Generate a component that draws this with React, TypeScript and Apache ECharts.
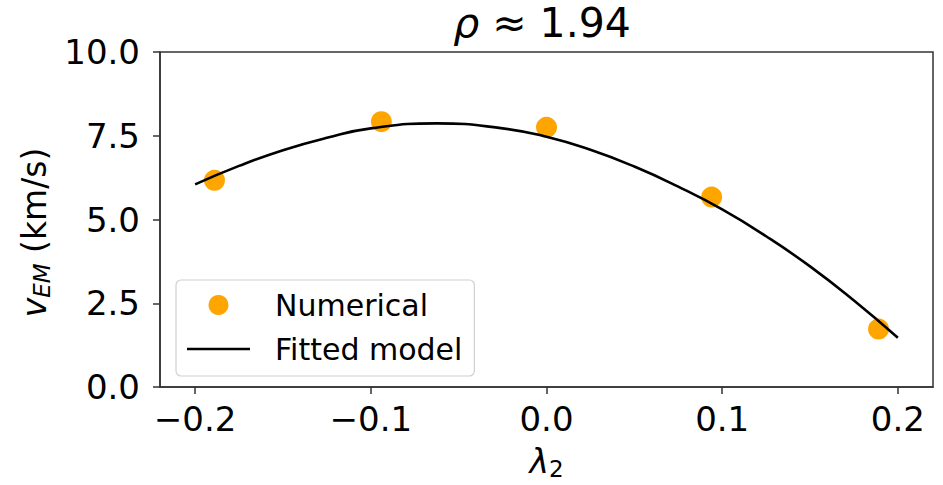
import React, { useEffect, useRef } from "react";
import * as echarts from "echarts";

// Orbit-speed samples from the simulation
const lambdaNumerical = [-0.189, -0.094, 0.0, 0.094, 0.189];
const vNumerical = [6.17, 7.92, 7.75, 5.67, 1.73];

// Fitted model evaluated along lambda_2
const lambdaModel = [-0.2, -0.175, -0.15, -0.125, -0.1, -0.0625, -0.025, 0, 0.025, 0.05, 0.075, 0.1, 0.125, 0.15, 0.175, 0.2];
const vModel = [6.05, 6.6, 7.07, 7.44, 7.72, 7.87, 7.72, 7.47, 7.08, 6.58, 5.98, 5.3, 4.5, 3.6, 2.58, 1.47];

const xTicks = [-0.2, -0.1, 0.0, 0.1, 0.2];

const FONT = "DejaVu Sans";
const AXIS_COLOR = "#333";
const TICK_FONT = 34;

export default function App() {
  const ref = useRef<HTMLDivElement>(null);

  useEffect(() => {
    if (!ref.current) return;
    const chart = echarts.init(ref.current, null, { renderer: "svg" });

    const fmtX = (v: number) => {
      const s = Math.abs(v).toFixed(1);
      return v < -1e-9 ? "\u2212" + s : s;
    };

    chart.setOption({
      animation: false,
      backgroundColor: "#fff",
      textStyle: { fontFamily: FONT },
      title: {
        text: "{i|ρ} ≈ 1.94",
        left: 542,
        textAlign: "center",
        top: 0,
        padding: 0,
        textStyle: {
          fontFamily: FONT,
          fontSize: 41,
          fontWeight: "normal",
          color: "#000",
          lineHeight: 46,
          rich: {
            i: { fontFamily: FONT, fontSize: 41, fontStyle: "italic", color: "#000", lineHeight: 46 },
          },
        },
      },
      grid: {
        left: 160,
        top: 52,
        right: 10,
        bottom: 92,
        show: true,
        borderColor: AXIS_COLOR,
        borderWidth: 1.5,
        backgroundColor: "#fff",
      },
      legend: {
        orient: "vertical",
        left: 176,
        top: 280,
        padding: [8, 12, 10, 11],
        itemGap: 10,
        itemWidth: 63,
        itemHeight: 20,
        backgroundColor: "rgba(255,255,255,0.8)",
        borderColor: "#d0d0d0",
        borderWidth: 1.2,
        borderRadius: 5,
        textStyle: {
          fontFamily: FONT,
          fontSize: 30,
          color: "#000",
          lineHeight: 34,
          padding: [0, 0, 0, 20],
        },
        data: [
          { name: "Numerical", icon: "circle" },
          { name: "Fitted model", icon: "path://M0 0H100V4H0Z" },
        ],
      },
      xAxis: {
        type: "value",
        min: -0.22,
        max: 0.22,
        name: "{l|λ}{s|2}",
        nameLocation: "middle",
        nameGap: 56,
        nameTextStyle: {
          rich: {
            l: { fontFamily: FONT, fontSize: 33, fontStyle: "italic", color: "#000" },
            s: { fontFamily: FONT, fontSize: 23, color: "#000", verticalAlign: "bottom", padding: [14, 0, 0, 0] },
          },
        },
        axisLine: { show: true, onZero: false, lineStyle: { color: AXIS_COLOR, width: 1.5 } },
        axisTick: { show: true, length: 7, lineStyle: { color: AXIS_COLOR, width: 1.5 }, customValues: xTicks },
        axisLabel: {
          fontFamily: FONT,
          fontSize: TICK_FONT,
          color: "#000",
          margin: 15,
          customValues: xTicks,
          formatter: (v: number) => fmtX(v),
        },
        splitLine: { show: false },
      },
      yAxis: {
        type: "value",
        min: 0,
        max: 10,
        interval: 2.5,
        name: "{v|v}{s|EM}{n| (km/s)}",
        nameLocation: "middle",
        nameGap: 104,
        nameTextStyle: {
          padding: [0, 26, 0, 0],
          rich: {
            v: { fontFamily: FONT, fontSize: 33, fontStyle: "italic", color: "#000" },
            s: { fontFamily: FONT, fontSize: 23, fontStyle: "italic", color: "#000", verticalAlign: "bottom", padding: [14, 0, 0, 0] },
            n: { fontFamily: FONT, fontSize: 33, color: "#000" },
          },
        },
        axisLine: { show: true, onZero: false, lineStyle: { color: AXIS_COLOR, width: 1.5 } },
        axisTick: { show: true, length: 7, lineStyle: { color: AXIS_COLOR, width: 1.5 } },
        axisLabel: {
          fontFamily: FONT,
          fontSize: TICK_FONT,
          color: "#000",
          margin: 20,
          formatter: (v: number) => v.toFixed(1),
        },
        splitLine: { show: false },
      },
      series: [
        {
          name: "Numerical",
          type: "scatter",
          symbol: "circle",
          symbolSize: 21,
          itemStyle: { color: "#FFA500", opacity: 1 },
          z: 2,
          data: lambdaNumerical.map((x, i) => [x, vNumerical[i]]),
        },
        {
          name: "Fitted model",
          type: "line",
          smooth: 0.5,
          symbol: "none",
          showSymbol: false,
          lineStyle: { color: "#000", width: 2.6 },
          itemStyle: { color: "#000" },
          z: 3,
          data: lambdaModel.map((x, i) => [x, vModel[i]]),
        },
      ],
    });

    return () => chart.dispose();
  }, []);

  return (
    <div
      ref={ref}
      style={{ position: "fixed", left: 0, top: 0, width: 943, height: 485 }}
    />
  );
}
